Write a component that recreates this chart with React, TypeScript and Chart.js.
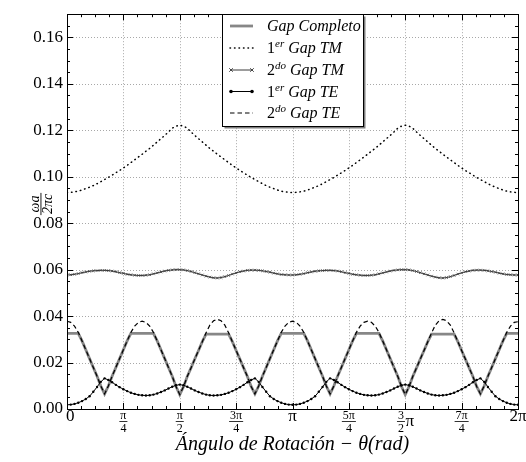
import React, { useEffect, useRef } from 'react';
import { Chart, registerables } from 'chart.js';

Chart.register(...registerables);

const PI = Math.PI;

// rotation angle grid (degrees), 3 degree step from 0 to 360
const thetaDeg: number[] = Array.from({ length: 121 }, (_, i) => i * 3);

const gapCompleto = [
  0.0326, 0.0326, 0.0326, 0.0326, 0.0293, 0.0255, 0.0217, 0.0179, 0.0141, 0.0099, 0.0065,
  0.0099, 0.0141, 0.0179, 0.0217, 0.0255, 0.0293, 0.0326, 0.0326, 0.0326, 0.0326,
  0.0326, 0.0326, 0.0326, 0.0293, 0.0255, 0.0217, 0.0179, 0.0141, 0.0097, 0.0062,
  0.0096, 0.0140, 0.0177, 0.0215, 0.0252, 0.0290, 0.0322, 0.0322, 0.0322, 0.0322,
  0.0322, 0.0322, 0.0322, 0.0290, 0.0252, 0.0215, 0.0177, 0.0140, 0.0097, 0.0065,
  0.0099, 0.0141, 0.0179, 0.0217, 0.0255, 0.0293, 0.0326, 0.0326, 0.0326, 0.0326,
  0.0326, 0.0326, 0.0326, 0.0293, 0.0255, 0.0217, 0.0179, 0.0141, 0.0099, 0.0065,
  0.0099, 0.0141, 0.0179, 0.0217, 0.0255, 0.0293, 0.0326, 0.0326, 0.0326, 0.0326,
  0.0326, 0.0326, 0.0326, 0.0293, 0.0255, 0.0217, 0.0179, 0.0141, 0.0097, 0.0062,
  0.0096, 0.0140, 0.0177, 0.0215, 0.0252, 0.0290, 0.0322, 0.0322, 0.0322, 0.0322,
  0.0322, 0.0322, 0.0322, 0.0290, 0.0252, 0.0215, 0.0177, 0.0140, 0.0097, 0.0065,
  0.0099, 0.0141, 0.0179, 0.0217, 0.0255, 0.0293, 0.0326, 0.0326, 0.0326, 0.0326,
];

const gapTM1 = [
  0.0932, 0.0933, 0.0935, 0.0938, 0.0943, 0.0949, 0.0955, 0.0962, 0.0970, 0.0979, 0.0988,
  0.0997, 0.1007, 0.1017, 0.1027, 0.1038, 0.1049, 0.1061, 0.1073, 0.1085, 0.1097,
  0.1110, 0.1122, 0.1136, 0.1150, 0.1164, 0.1178, 0.1193, 0.1209, 0.1218, 0.1222,
  0.1218, 0.1209, 0.1193, 0.1178, 0.1164, 0.1150, 0.1136, 0.1122, 0.1110, 0.1097,
  0.1085, 0.1073, 0.1061, 0.1049, 0.1038, 0.1027, 0.1017, 0.1007, 0.0997, 0.0988,
  0.0979, 0.0970, 0.0962, 0.0955, 0.0949, 0.0943, 0.0938, 0.0935, 0.0933, 0.0932,
  0.0933, 0.0935, 0.0938, 0.0943, 0.0949, 0.0955, 0.0962, 0.0970, 0.0979, 0.0988,
  0.0997, 0.1007, 0.1017, 0.1027, 0.1038, 0.1049, 0.1061, 0.1073, 0.1085, 0.1097,
  0.1110, 0.1122, 0.1136, 0.1150, 0.1164, 0.1178, 0.1193, 0.1209, 0.1218, 0.1222,
  0.1218, 0.1209, 0.1193, 0.1178, 0.1164, 0.1150, 0.1136, 0.1122, 0.1110, 0.1097,
  0.1085, 0.1073, 0.1061, 0.1049, 0.1038, 0.1027, 0.1017, 0.1007, 0.0997, 0.0988,
  0.0979, 0.0970, 0.0962, 0.0955, 0.0949, 0.0943, 0.0938, 0.0935, 0.0933, 0.0932,
];

const gapTM2 = [
  0.0577, 0.0578, 0.0580, 0.0583, 0.0587, 0.0590, 0.0593, 0.0595, 0.0596, 0.0597, 0.0597,
  0.0596, 0.0594, 0.0591, 0.0587, 0.0584, 0.0580, 0.0578, 0.0576, 0.0575, 0.0575,
  0.0576, 0.0578, 0.0582, 0.0586, 0.0590, 0.0594, 0.0597, 0.0599, 0.0600, 0.0600,
  0.0599, 0.0596, 0.0592, 0.0587, 0.0582, 0.0577, 0.0572, 0.0568, 0.0565, 0.0564,
  0.0566, 0.0570, 0.0575, 0.0581, 0.0586, 0.0591, 0.0594, 0.0597, 0.0598, 0.0598,
  0.0597, 0.0595, 0.0592, 0.0589, 0.0585, 0.0582, 0.0579, 0.0578, 0.0577, 0.0577,
  0.0578, 0.0580, 0.0583, 0.0587, 0.0590, 0.0593, 0.0595, 0.0596, 0.0597, 0.0597,
  0.0596, 0.0594, 0.0591, 0.0587, 0.0584, 0.0580, 0.0578, 0.0576, 0.0575, 0.0575,
  0.0576, 0.0578, 0.0582, 0.0586, 0.0590, 0.0594, 0.0597, 0.0599, 0.0600, 0.0600,
  0.0599, 0.0596, 0.0592, 0.0587, 0.0582, 0.0577, 0.0572, 0.0568, 0.0565, 0.0564,
  0.0566, 0.0570, 0.0575, 0.0581, 0.0586, 0.0591, 0.0594, 0.0597, 0.0598, 0.0598,
  0.0597, 0.0595, 0.0592, 0.0589, 0.0585, 0.0582, 0.0579, 0.0578, 0.0577, 0.0577,
];

const gapTE1 = [
  0.0018, 0.0019, 0.0022, 0.0027, 0.0034, 0.0043, 0.0055, 0.0074, 0.0095, 0.0117, 0.0132,
  0.0125, 0.0115, 0.0104, 0.0094, 0.0085, 0.0077, 0.0070, 0.0065, 0.0061, 0.0059,
  0.0058, 0.0059, 0.0062, 0.0067, 0.0073, 0.0080, 0.0088, 0.0096, 0.0102, 0.0105,
  0.0102, 0.0096, 0.0088, 0.0080, 0.0073, 0.0067, 0.0062, 0.0059, 0.0058, 0.0059,
  0.0061, 0.0065, 0.0070, 0.0077, 0.0085, 0.0094, 0.0104, 0.0115, 0.0125, 0.0132,
  0.0117, 0.0095, 0.0074, 0.0055, 0.0043, 0.0034, 0.0027, 0.0022, 0.0019, 0.0018,
  0.0019, 0.0022, 0.0027, 0.0034, 0.0043, 0.0055, 0.0074, 0.0095, 0.0117, 0.0132,
  0.0125, 0.0115, 0.0104, 0.0094, 0.0085, 0.0077, 0.0070, 0.0065, 0.0061, 0.0059,
  0.0058, 0.0059, 0.0062, 0.0067, 0.0073, 0.0080, 0.0088, 0.0096, 0.0102, 0.0105,
  0.0102, 0.0096, 0.0088, 0.0080, 0.0073, 0.0067, 0.0062, 0.0059, 0.0058, 0.0059,
  0.0061, 0.0065, 0.0070, 0.0077, 0.0085, 0.0094, 0.0104, 0.0115, 0.0125, 0.0132,
  0.0117, 0.0095, 0.0074, 0.0055, 0.0043, 0.0034, 0.0027, 0.0022, 0.0019, 0.0018,
];

const gapTE2 = [
  0.0378, 0.0373, 0.0357, 0.0330, 0.0293, 0.0255, 0.0217, 0.0179, 0.0141, 0.0099, 0.0065,
  0.0099, 0.0141, 0.0179, 0.0217, 0.0255, 0.0293, 0.0330, 0.0357, 0.0373, 0.0378,
  0.0373, 0.0357, 0.0330, 0.0293, 0.0255, 0.0217, 0.0179, 0.0141, 0.0097, 0.0062,
  0.0096, 0.0140, 0.0177, 0.0215, 0.0252, 0.0290, 0.0328, 0.0361, 0.0380, 0.0386,
  0.0380, 0.0361, 0.0328, 0.0290, 0.0252, 0.0215, 0.0177, 0.0140, 0.0097, 0.0065,
  0.0099, 0.0141, 0.0179, 0.0217, 0.0255, 0.0293, 0.0330, 0.0357, 0.0373, 0.0378,
  0.0373, 0.0357, 0.0330, 0.0293, 0.0255, 0.0217, 0.0179, 0.0141, 0.0099, 0.0065,
  0.0099, 0.0141, 0.0179, 0.0217, 0.0255, 0.0293, 0.0330, 0.0357, 0.0373, 0.0378,
  0.0373, 0.0357, 0.0330, 0.0293, 0.0255, 0.0217, 0.0179, 0.0141, 0.0097, 0.0062,
  0.0096, 0.0140, 0.0177, 0.0215, 0.0252, 0.0290, 0.0328, 0.0361, 0.0380, 0.0386,
  0.0380, 0.0361, 0.0328, 0.0290, 0.0252, 0.0215, 0.0177, 0.0140, 0.0097, 0.0065,
  0.0099, 0.0141, 0.0179, 0.0217, 0.0255, 0.0293, 0.0330, 0.0357, 0.0373, 0.0376,
];

const seriesLabels = ['Gap Completo', '1er Gap TM', '2do Gap TM', '1er Gap TE', '2do Gap TE'];

type Part = { t: string; up?: boolean; sup?: boolean };
const legendParts: Part[][] = [
  [{ t: 'Gap Completo' }],
  [{ t: '1', up: true }, { t: 'er', sup: true }, { t: ' Gap TM' }],
  [{ t: '2', up: true }, { t: 'do', sup: true }, { t: ' Gap TM' }],
  [{ t: '1', up: true }, { t: 'er', sup: true }, { t: ' Gap TE' }],
  [{ t: '2', up: true }, { t: 'do', sup: true }, { t: ' Gap TE' }],
];

const yTicks = [0, 0.02, 0.04, 0.06, 0.08, 0.1, 0.12, 0.14, 0.16];
const yMinorStep = 0.005;
const yMax = 0.17;

const xTickMultiples = [0, 0.25, 0.5, 0.75, 1, 1.25, 1.5, 1.75, 2];
const xMinorMultiple = 0.0625;
type XLabel = { text?: string; num?: string; den?: string; suffix?: string };
const xTickLabels: XLabel[] = [
  { text: '0' },
  { num: 'π', den: '4' },
  { num: 'π', den: '2' },
  { num: '3π', den: '4' },
  { text: 'π' },
  { num: '5π', den: '4' },
  { num: '3', den: '2', suffix: 'π' },
  { num: '7π', den: '4' },
  { text: '2π' },
];

const xTitle = 'Ángulo de Rotación − θ(rad)';
const yTitleNum = 'ωa';
const yTitleDen = '2πc';

const SERIF = '"Liberation Serif", "DejaVu Serif", serif';

function toPoints(vals: number[]) {
  return vals.map((v, i) => ({ x: (thetaDeg[i] * PI) / 180, y: v }));
}

function drawParts(ctx: CanvasRenderingContext2D, parts: Part[], x: number, y: number) {
  let cx = x;
  for (const p of parts) {
    const size = p.sup ? 11 : 16;
    ctx.font = `${p.up ? '' : 'italic '}${size}px ${SERIF}`;
    ctx.fillText(p.t, cx, p.sup ? y - 6 : y);
    cx += ctx.measureText(p.t).width;
  }
}

const decorPlugin = {
  id: 'decor',
  beforeDatasetsDraw(chart: any) {
    const { ctx, chartArea: a, scales } = chart;
    const xs = scales.x;
    const ys = scales.y;
    ctx.save();
    ctx.strokeStyle = '#a8a8a8';
    ctx.lineWidth = 1;
    ctx.setLineDash([1, 2]);
    ctx.beginPath();
    for (const m of xTickMultiples) {
      const px = Math.round(xs.getPixelForValue(m * PI)) + 0.5;
      ctx.moveTo(px, a.top);
      ctx.lineTo(px, a.bottom);
    }
    for (const v of yTicks) {
      const py = Math.round(ys.getPixelForValue(v)) + 0.5;
      ctx.moveTo(a.left, py);
      ctx.lineTo(a.right, py);
    }
    ctx.stroke();
    ctx.restore();
  },
  afterDatasetsDraw(chart: any) {
    const { ctx, chartArea: a, scales } = chart;
    const xs = scales.x;
    const ys = scales.y;
    ctx.save();
    ctx.setLineDash([]);
    ctx.strokeStyle = '#000';
    ctx.lineWidth = 1;
    // frame
    ctx.strokeRect(Math.round(a.left) + 0.5, Math.round(a.top) + 0.5, Math.round(a.right - a.left), Math.round(a.bottom - a.top));
    // ticks (inward), major and minor, all four sides
    ctx.beginPath();
    for (let k = 0; k * xMinorMultiple <= 2 + 1e-9; k++) {
      const m = k * xMinorMultiple;
      const major = xTickMultiples.some((t) => Math.abs(t - m) < 1e-9);
      const len = major ? 6 : 3;
      const px = Math.round(xs.getPixelForValue(m * PI)) + 0.5;
      ctx.moveTo(px, a.bottom);
      ctx.lineTo(px, a.bottom - len);
      ctx.moveTo(px, a.top);
      ctx.lineTo(px, a.top + len);
    }
    for (let k = 0; k * yMinorStep <= yMax + 1e-9; k++) {
      const v = k * yMinorStep;
      const major = yTicks.some((t) => Math.abs(t - v) < 1e-9);
      const len = major ? 6 : 3;
      const py = Math.round(ys.getPixelForValue(v)) + 0.5;
      ctx.moveTo(a.left, py);
      ctx.lineTo(a.left + len, py);
      ctx.moveTo(a.right, py);
      ctx.lineTo(a.right - len, py);
    }
    ctx.stroke();

    // x tick labels
    ctx.fillStyle = '#000';
    ctx.textBaseline = 'alphabetic';
    xTickMultiples.forEach((m, i) => {
      const lab = xTickLabels[i];
      const px = xs.getPixelForValue(m * PI);
      if (lab.text !== undefined) {
        ctx.font = `17px ${SERIF}`;
        ctx.textAlign = 'center';
        const w = ctx.measureText(lab.text).width;
        let cx = px;
        if (m === 0) cx = px + w / 2 - 1;
        ctx.fillText(lab.text, cx, a.bottom + 12);
      } else {
        ctx.font = `12px ${SERIF}`;
        const wn = ctx.measureText(lab.num!).width;
        const wd = ctx.measureText(lab.den!).width;
        const fw = Math.max(wn, wd) + 2;
        let sw = 0;
        if (lab.suffix) {
          ctx.font = `17px ${SERIF}`;
          sw = ctx.measureText(lab.suffix).width;
          ctx.font = `12px ${SERIF}`;
        }
        const total = fw + sw;
        const fx = px - total / 2 + fw / 2;
        ctx.textAlign = 'center';
        ctx.fillText(lab.num!, fx, a.bottom + 10);
        ctx.fillText(lab.den!, fx, a.bottom + 23);
        ctx.fillRect(fx - fw / 2, a.bottom + 12, fw, 0.8);
        if (lab.suffix) {
          ctx.font = `17px ${SERIF}`;
          ctx.textAlign = 'left';
          ctx.fillText(lab.suffix, fx + fw / 2 + 0.5, a.bottom + 17);
        }
      }
    });

    // y axis title (rotated fraction)
    ctx.save();
    ctx.translate(42, 204);
    ctx.rotate(-PI / 2);
    ctx.font = `italic 14px ${SERIF}`;
    ctx.textAlign = 'center';
    const bw = Math.max(ctx.measureText(yTitleNum).width, ctx.measureText(yTitleDen).width) + 2;
    ctx.fillText(yTitleNum, 0, -3);
    ctx.fillRect(-bw / 2, -1.5, bw, 0.9);
    ctx.fillText(yTitleDen, 0, 9.5);
    ctx.restore();

    // legend
    const lx = 222.5, ly = 14.5, lw = 141, lh = 112;
    ctx.fillStyle = '#7f7f7f';
    ctx.fillRect(lx + 2, ly + 2, lw, lh);
    ctx.fillStyle = '#fff';
    ctx.fillRect(lx, ly, lw, lh);
    ctx.strokeStyle = '#000';
    ctx.lineWidth = 1;
    ctx.strokeRect(lx, ly, lw, lh);
    const rows = [26, 48, 70, 91.5, 113];
    chart.data.datasets.forEach((ds: any, i: number) => {
      const yy = rows[i];
      ctx.save();
      ctx.strokeStyle = ds.borderColor;
      ctx.lineWidth = ds.borderWidth;
      ctx.lineCap = ds.borderCapStyle || 'butt';
      ctx.setLineDash(ds.borderDash || []);
      ctx.beginPath();
      ctx.moveTo(230, yy);
      ctx.lineTo(253, yy);
      ctx.stroke();
      ctx.setLineDash([]);
      if (ds.pointStyle === 'crossRot') {
        ctx.lineWidth = 0.9;
        ctx.beginPath();
        for (const px of [231, 252]) {
          ctx.moveTo(px - 1.8, yy - 1.8);
          ctx.lineTo(px + 1.8, yy + 1.8);
          ctx.moveTo(px - 1.8, yy + 1.8);
          ctx.lineTo(px + 1.8, yy - 1.8);
        }
        ctx.stroke();
      } else if (ds.pointStyle === 'circle' && ds.pointRadius > 0) {
        ctx.fillStyle = ds.pointBackgroundColor;
        for (const px of [231, 252]) {
          ctx.beginPath();
          ctx.arc(px, yy, 1.8, 0, 2 * PI);
          ctx.fill();
        }
      }
      ctx.restore();
      ctx.fillStyle = '#000';
      ctx.textAlign = 'left';
      ctx.textBaseline = 'alphabetic';
      drawParts(ctx, legendParts[i], 267, yy + 5);
    });
    ctx.restore();
  },
};

export default function App() {
  const ref = useRef<HTMLCanvasElement>(null);
  useEffect(() => {
    document.body.style.margin = '0';
    const canvas = ref.current!;
    const chart = new Chart(canvas, {
      type: 'line',
      data: {
        datasets: [
          {
            label: seriesLabels[0],
            data: toPoints(gapCompleto),
            borderColor: '#878787',
            borderWidth: 2.8,
            pointRadius: 0,
            order: 5,
          },
          {
            label: seriesLabels[1],
            data: toPoints(gapTM1),
            borderColor: '#000',
            borderWidth: 1.5,
            borderDash: [0.5, 4],
            borderCapStyle: 'round',
            pointRadius: 0,
            order: 4,
          },
          {
            label: seriesLabels[2],
            data: toPoints(gapTM2),
            borderColor: '#3a3a3a',
            borderWidth: 1,
            pointStyle: 'crossRot',
            pointRadius: 1.8,
            pointBorderWidth: 0.8,
            pointBorderColor: '#3a3a3a',
            order: 3,
          },
          {
            label: seriesLabels[3],
            data: toPoints(gapTE1),
            borderColor: '#000',
            borderWidth: 1,
            pointStyle: 'circle',
            pointRadius: 1.2,
            pointBorderWidth: 0,
            pointBackgroundColor: '#000',
            order: 2,
          },
          {
            label: seriesLabels[4],
            data: toPoints(gapTE2),
            borderColor: '#000',
            borderWidth: 1.2,
            borderDash: [4.5, 3],
            pointRadius: 0,
            order: 1,
          },
        ] as any,
      },
      options: {
        animation: false,
        responsive: false,
        devicePixelRatio: 1,
        parsing: true,
        layout: { padding: { left: 0, right: 8, top: 7, bottom: 0 } },
        elements: { line: { tension: 0 } },
        plugins: { legend: { display: false }, tooltip: { enabled: false } },
        scales: {
          x: {
            type: 'linear',
            min: 0,
            max: 2 * PI,
            grid: { display: false, drawTicks: false },
            border: { display: false },
            ticks: { display: false },
            afterBuildTicks: (s: any) => {
              s.ticks = xTickMultiples.map((m) => ({ value: m * PI }));
            },
            afterFit: (s: any) => {
              s.height = 53;
            },
            title: {
              display: true,
              text: xTitle,
              color: '#000',
              font: { family: SERIF, size: 20, style: 'italic' },
              padding: { top: 0, bottom: 5 },
            },
          },
          y: {
            type: 'linear',
            min: 0,
            max: yMax,
            grid: { display: false, drawTicks: false },
            border: { display: false },
            ticks: {
              color: '#000',
              padding: 4,
              font: { family: SERIF, size: 17 },
              callback: (v: any) => Number(v).toFixed(2),
            },
            afterBuildTicks: (s: any) => {
              s.ticks = yTicks.map((v) => ({ value: v }));
            },
            afterFit: (s: any) => {
              s.width = 67;
            },
          },
        },
      } as any,
      plugins: [decorPlugin],
    });
    return () => chart.destroy();
  }, []);
  return <canvas ref={ref} width={526} height={462} style={{ display: 'block' }} />;
}
